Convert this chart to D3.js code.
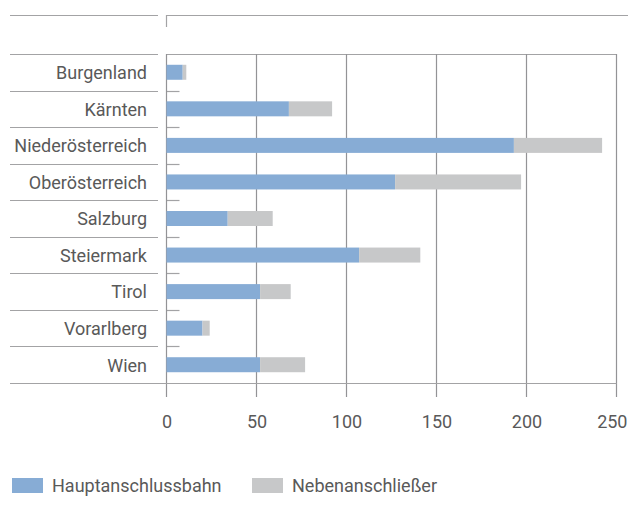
<!DOCTYPE html>
<html>
<head>
<meta charset="utf-8">
<script src="https://cdn.jsdelivr.net/npm/d3@7/dist/d3.min.js"></script>
<style>
  html, body { margin: 0; padding: 0; background: #fff; }
  svg text { font-family: Roboto, "Noto Sans", sans-serif; fill: #595959; }
</style>
</head>
<body>
<svg id="chart" width="628" height="522"></svg>
<script>
const regions = ["Burgenland", "Kärnten", "Niederösterreich", "Oberösterreich",
  "Salzburg", "Steiermark", "Tirol", "Vorarlberg", "Wien"];
const hauptanschlussbahn = [9, 68, 193, 127, 34, 107, 52, 20, 52];
const nebenanschliesser = [2, 24, 49, 70, 25, 34, 17, 4, 25];
const xTicks = [0, 50, 100, 150, 200, 250];
const seriesNames = ["Hauptanschlussbahn", "Nebenanschließer"];
const seriesColors = ["#87acd5", "#c7c8c9"];

const svg = d3.select("#chart");
const lineColor = "#a3a3a5";
const gridColor = "#939396";
const fontSize = 18;
const width = 628;

const x = d3.scaleLinear().domain([0, 250]).range([166.5, 616.5]);
const y = d3.scaleBand().domain(regions).range([54, 383]).padding(0);

const rows = regions.map((r, i) => ({ region: r, haupt: hauptanschlussbahn[i], neben: nebenanschliesser[i] }));
const stacked = d3.stack().keys(["haupt", "neben"])(rows);

// header rule with the small corner mark
svg.append("line").attr("x1", 10).attr("x2", 158).attr("y1", 15.5).attr("y2", 15.5)
  .attr("stroke", lineColor).attr("stroke-width", 1.2);
svg.append("path").attr("d", `M${x(0)},27 V15.5 H${width}`)
  .attr("fill", "none").attr("stroke", lineColor).attr("stroke-width", 1.2);

// row separators in the label column
const seps = regions.map(r => y(r));
svg.append("g").selectAll("line").data(seps).join("line")
  .attr("x1", 10).attr("x2", 158)
  .attr("y1", d => Math.round(d) + 0.5).attr("y2", d => Math.round(d) + 0.5)
  .attr("stroke", lineColor).attr("stroke-width", 1.2);

// short ticks inside the plot at row boundaries
svg.append("g").selectAll("line").data(seps.slice(1)).join("line")
  .attr("x1", x(0)).attr("x2", x(0) + 13)
  .attr("y1", d => Math.round(d) + 0.5).attr("y2", d => Math.round(d) + 0.5)
  .attr("stroke", lineColor).attr("stroke-width", 1.2);

// top frame of plot
svg.append("line").attr("x1", x(0)).attr("x2", x(250)).attr("y1", 54.5).attr("y2", 54.5)
  .attr("stroke", lineColor).attr("stroke-width", 1.2);

// vertical gridlines (extending below the axis as ticks)
svg.append("g").selectAll("line").data(xTicks).join("line")
  .attr("x1", d => x(d)).attr("x2", d => x(d))
  .attr("y1", 54).attr("y2", 397)
  .attr("stroke", gridColor).attr("stroke-width", 1.2);

// stacked bars
const barH = 15;
svg.append("g").selectAll("g").data(stacked).join("g")
  .attr("fill", (d, i) => seriesColors[i])
  .selectAll("rect").data(d => d).join("rect")
  .attr("x", d => x(d[0]))
  .attr("width", d => x(d[1]) - x(d[0]))
  .attr("y", d => y(d.data.region) + y.bandwidth() / 2 - barH / 2)
  .attr("height", barH);

// bottom axis line
svg.append("line").attr("x1", 10).attr("x2", x(250)).attr("y1", 383.5).attr("y2", 383.5)
  .attr("stroke", lineColor).attr("stroke-width", 1.2);

// x tick labels via d3 axis
const xAxis = svg.append("g").attr("transform", "translate(0,397)")
  .call(d3.axisBottom(x).tickValues(xTicks).tickSize(0).tickPadding(18).tickFormat(d3.format("d")));
xAxis.select(".domain").remove();
xAxis.selectAll("text").attr("font-size", fontSize).style("font-family", "Roboto, sans-serif").attr("fill", "#595959");
// keep the last label inside the canvas
xAxis.selectAll("text").each(function () {
  const bb = this.getBBox();
  const tick = this.parentNode;
  const tx = +tick.getAttribute("transform").match(/translate\(([-\d.]+)/)[1];
  const overflow = tx + bb.x + bb.width - (width - 0.5);
  if (overflow > 0) d3.select(this).attr("x", -overflow);
});

// region labels
svg.append("g").selectAll("text").data(regions).join("text")
  .attr("x", 147)
  .attr("y", d => y(d) + y.bandwidth() / 2)
  .attr("dy", "0.38em")
  .attr("text-anchor", "end")
  .attr("font-size", fontSize)
  .text(d => d);

// legend
const legend = svg.append("g").attr("transform", "translate(12,478)");
const legX = [0, 240];
seriesNames.forEach((name, i) => {
  legend.append("rect").attr("x", legX[i]).attr("y", 0).attr("width", 31).attr("height", 15)
    .attr("fill", seriesColors[i]);
  legend.append("text").attr("x", legX[i] + 40).attr("y", 7.5).attr("dy", "0.36em")
    .attr("font-size", fontSize).text(name);
});
</script>
</body>
</html>
